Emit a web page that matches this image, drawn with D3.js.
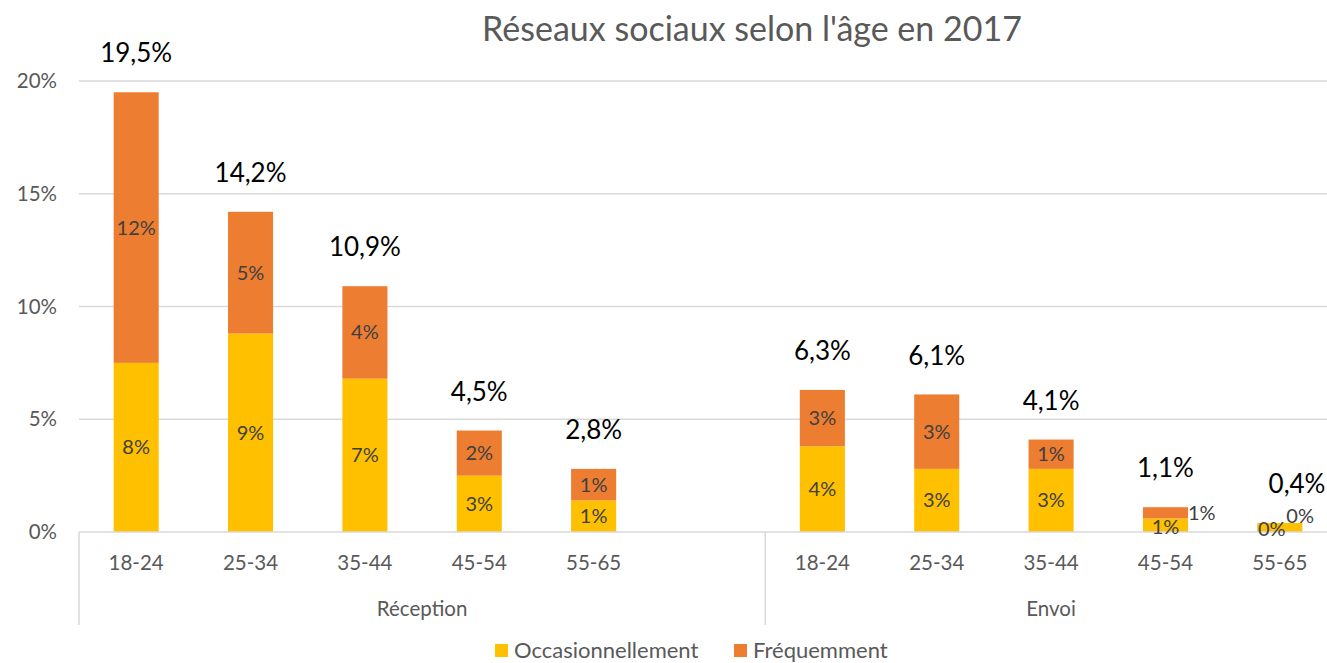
<!DOCTYPE html>
<html>
<head>
<meta charset="utf-8">
<script src="https://cdn.jsdelivr.net/npm/d3@7"></script>
<style>
  body { margin: 0; background: #fff; overflow: hidden; }
  svg { font-family: Lato, "Open Sans", sans-serif; }
</style>
</head>
<body>
<div id="chart"></div>
<script>
// data
const groups = ["Réception", "Envoi"];
const ages = ["18-24", "25-34", "35-44", "45-54", "55-65"];
const occasionnellement = {
  "Réception": [7.5, 8.8, 6.8, 2.5, 1.4],
  "Envoi": [3.8, 2.8, 2.8, 0.6, 0.4]
};
const frequemment = {
  "Réception": [12.0, 5.4, 4.1, 2.0, 1.4],
  "Envoi": [2.5, 3.3, 1.3, 0.5, 0.0]
};
const yTicks = [0, 5, 10, 15, 20];
const seriesNames = ["Occasionnellement", "Fréquemment"];
const colors = ["#FFC000", "#ED7D31"];

//size of svg
const W = 1327, H = 663;
const plot = {left: 79, right: 1337, top: 81, bottom: 532};

const svg = d3.select("#chart").append("svg")
  .attr("width", W).attr("height", H);

//****************************
//slots: Réception has an empty 6th slot
let slots = [];
groups.forEach((g, gi) => {
  ages.forEach(a => slots.push(g + "|" + a));
  if (gi === 0) slots.push(g + "|");
});

const rows = [];
groups.forEach(g => ages.forEach((a, i) => {
  rows.push({group: g, age: a, key: g + "|" + a,
    occ: occasionnellement[g][i], freq: frequemment[g][i]});
}));

const x = d3.scaleBand().domain(slots).range([plot.left, plot.right])
  .paddingInner(0.606).paddingOuter(0.303);
const y = d3.scaleLinear().domain([0, 20]).range([plot.bottom, plot.top]);

const fmt = v => d3.format(".1f")(v).replace(".", ",") + "%";
const fmtRound = v => Math.round(v + 1e-9) + "%";

//title
svg.append("text")
  .attr("x", 752).attr("y", 41)
  .attr("text-anchor", "middle")
  .style("font-size", "34px").style("fill", "#595959")
  .text("Réseaux sociaux selon l'âge en 2017");

//gridlines + y labels
svg.append("g").selectAll("line").data(yTicks.slice(1)).enter().append("line")
  .attr("x1", plot.left).attr("x2", W)
  .attr("y1", d => y(d)).attr("y2", d => y(d))
  .style("stroke", "#d9d9d9").style("stroke-width", 1.3);

svg.append("g").selectAll("text").data(yTicks).enter().append("text")
  .attr("x", 57).attr("y", d => y(d)).attr("dy", "0.35em")
  .attr("text-anchor", "end")
  .style("font-size", "20.5px").style("fill", "#595959")
  .text(d => d + "%");

//bars
const gBars = svg.append("g");
gBars.selectAll("rect.occ").data(rows).enter().append("rect")
  .attr("class", "occ")
  .attr("x", d => x(d.key)).attr("width", x.bandwidth())
  .attr("y", d => y(d.occ)).attr("height", d => y(0) - y(d.occ))
  .style("fill", colors[0]);
gBars.selectAll("rect.freq").data(rows).enter().append("rect")
  .attr("class", "freq")
  .attr("x", d => x(d.key)).attr("width", x.bandwidth())
  .attr("y", d => y(d.occ + d.freq)).attr("height", d => y(d.occ) - y(d.occ + d.freq))
  .style("fill", colors[1]);

//x axis line
svg.append("line")
  .attr("x1", plot.left).attr("x2", W)
  .attr("y1", plot.bottom).attr("y2", plot.bottom)
  .style("stroke", "#d9d9d9").style("stroke-width", 1.5);

//group separators
const sepX = [plot.left, x("Envoi|18-24") - (x.step() - x.bandwidth()) / 2, plot.right];
svg.append("g").selectAll("line").data(sepX).enter().append("line")
  .attr("x1", d => d).attr("x2", d => d)
  .attr("y1", plot.bottom).attr("y2", 625)
  .style("stroke", "#d9d9d9").style("stroke-width", 1.5);

//category labels
svg.append("g").selectAll("text").data(rows).enter().append("text")
  .attr("x", d => x(d.key) + x.bandwidth() / 2).attr("y", 563).attr("dy", "0.35em")
  .attr("text-anchor", "middle")
  .style("font-size", "20.5px").style("fill", "#595959")
  .text(d => d.age);

//group labels
svg.append("g").selectAll("text").data(groups).enter().append("text")
  .attr("x", (d, i) => (sepX[i] + sepX[i + 1]) / 2).attr("y", 609).attr("dy", "0.35em")
  .attr("text-anchor", "middle")
  .style("font-size", "20.5px").style("fill", "#595959")
  .text(d => d);

//segment labels
const gLab = svg.append("g").style("font-size", "20px").style("fill", "#404040");
gLab.selectAll("text.occ").data(rows).enter().append("text")
  .attr("x", d => x(d.key) + x.bandwidth() / 2 - (d.occ < 0.5 ? 8 : 0))
  .attr("y", d => (y(0) + y(d.occ)) / 2 + (y(0) - y(d.occ) < 16 ? 2 : 0))
  .attr("dy", "0.35em").attr("text-anchor", "middle")
  .text(d => fmtRound(d.occ));
gLab.selectAll("text.freq").data(rows).enter().append("text")
  .each(function (d) {
    const h = y(d.occ) - y(d.occ + d.freq);
    const small = h < 16;
    d3.select(this)
      .attr("x", small ? x(d.key) + x.bandwidth() + (d.freq < 0.05 ? -16 : 0) : x(d.key) + x.bandwidth() / 2)
      .attr("y", (y(d.occ) + y(d.occ + d.freq)) / 2 - (d.freq < 0.05 ? 7 : 0))
      .attr("text-anchor", small ? "start" : "middle");
  })
  .attr("dy", "0.35em")
  .text(d => fmtRound(d.freq));

//total labels (kept inside the window)
svg.append("g").selectAll("text").data(rows).enter().append("text")
  .attr("x", d => Math.min(x(d.key) + x.bandwidth() / 2 + (d.occ + d.freq < 1 ? 22 : 0), W - 30))
  .attr("y", d => y(d.occ + d.freq) - 39).attr("dy", "0.35em")
  .attr("text-anchor", "middle")
  .style("font-size", "26px").style("fill", "#000")
  .text(d => fmt(d.occ + d.freq));

//legend
const legend = svg.append("g").attr("transform", "translate(495,644)");
const legX = [0, 239];
seriesNames.forEach((s, i) => {
  legend.append("rect").attr("x", legX[i]).attr("y", 0)
    .attr("width", 13).attr("height", 13).style("fill", colors[i]);
  legend.append("text").attr("x", legX[i] + 19).attr("y", 14)
    .style("font-size", "22px").style("fill", "#595959")
    .text(s);
});
</script>
</body>
</html>
